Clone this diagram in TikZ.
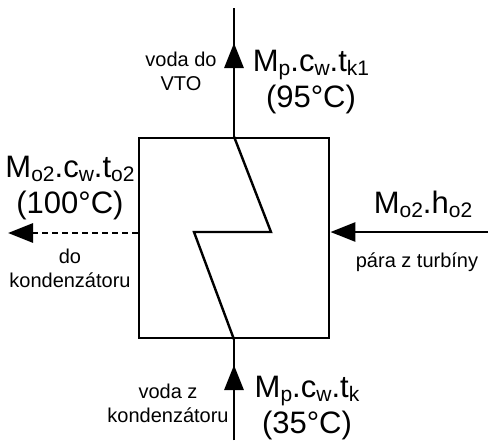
\documentclass[tikz,border=0pt]{standalone}
\usepackage{fontspec}
\setmainfont{Liberation Sans}
\usetikzlibrary{arrows.meta}
\newcommand{\sbs}[1]{\raisebox{-4.5pt}{\fontsize{21}{21}\selectfont #1}}
\tikzset{
  ln/.style={line width=2.9pt},
  tip/.style={-{Triangle[length=25pt,width=19pt]}},
  small/.style={font=\fontsize{20}{24}\selectfont, align=center, inner sep=0pt},
  big/.style={font=\fontsize{31}{36}\selectfont, align=center, inner sep=0pt},
}
\begin{document}
\begin{tikzpicture}[x=1pt,y=-1pt]
\useasboundingbox (0,0) rectangle (488,440);
% exchanger box
\node[draw, line width=2.9pt, minimum width=190pt, minimum height=200pt, inner sep=0pt] (box) at (234,238) {};
% zigzag
\coordinate (zr) at (271,232);
\coordinate (zl) at (194,232);
\draw[line width=2.4pt, line join=miter] (box.north) -- (zr) -- (zl) -- (box.south);
% top outlet
\coordinate (topend) at (234,8);
\coordinate (toptip) at (234,43);
\draw[ln] (box.north) -- (topend);
\draw[ln, tip] (box.north) -- (toptip);
% bottom inlet
\coordinate (botend) at (234,440);
\coordinate (bottip) at (234,365);
\draw[ln] (botend) -- (box.south);
\draw[ln, tip] (botend) -- (bottip);
% right inlet (steam)
\coordinate (rstart) at (488,232);
\draw[ln, tip] (rstart) -- (box.east |- rstart);
% left outlet (dashed)
\coordinate (lend) at (8,233);
\draw[ln, tip, dash pattern=on 6pt off 4pt] (box.west |- lend) -- (lend);
% labels
\node[small] (t1) at (181,71) {voda do\\VTO};
\node[big] (t2) at (311,82) {M\sbs{p}.c\sbs{w}.t\sbs{k1}\\(95°C)};
\node[big] (t3) at (70,188) {M\sbs{o2}.c\sbs{w}.t\sbs{o2}\\(100°C)};
\node[small] (t4) at (70,268) {do\\kondenzátoru};
\node[big, anchor=base] (t5) at (423,213) {M\sbs{o2}.h\sbs{o2}};
\node[small, anchor=base] (t6) at (417,267) {pára z turbíny};
\node[small] (t7) at (168,403) {voda z\\kondenzátoru};
\node[big] (t8) at (307,408) {M\sbs{p}.c\sbs{w}.t\sbs{k}\\(35°C)};
\end{tikzpicture}
\end{document}
